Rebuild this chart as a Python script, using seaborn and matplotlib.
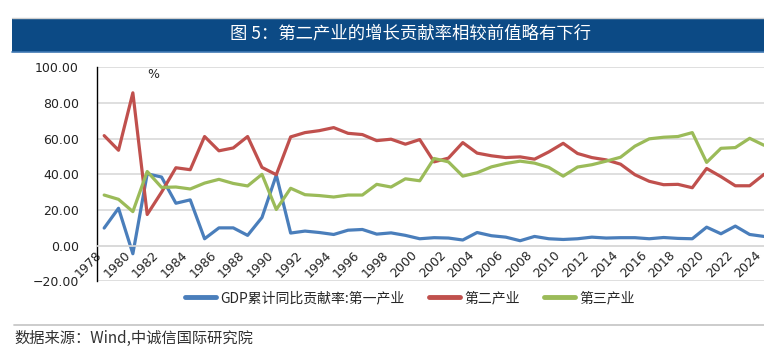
import numpy as np
import pandas as pd
import seaborn as sns
import matplotlib.pyplot as plt
from matplotlib.patches import Rectangle
from matplotlib.lines import Line2D
from matplotlib.ticker import FixedLocator, FuncFormatter

sns.set_style("white")
plt.rcParams['font.family'] = ['Noto Sans CJK SC', 'DejaVu Sans']

years = list(range(1978, 2025))

# GDP累计同比贡献率 (%)
primary = [9.9, 21.0, -4.5, 40.3, 38.5, 23.8, 25.7, 3.9, 10.0, 10.0,
           5.8, 15.8, 39.6, 7.1, 8.2, 7.4, 6.3, 8.7, 9.1, 6.5,
           7.2, 5.8, 3.9, 4.5, 4.3, 3.2, 7.4, 5.6, 4.8, 2.8,
           5.2, 3.9, 3.5, 3.9, 4.8, 4.3, 4.5, 4.5, 3.9, 4.6,
           4.1, 3.9, 10.4, 6.7, 11.0, 6.3, 5.2]
secondary = [61.7, 53.5, 85.7, 17.5, 30.0, 43.7, 42.6, 61.2, 53.2, 54.8,
             61.2, 43.9, 39.8, 61.0, 63.4, 64.5, 66.2, 63.0, 62.3, 58.9,
             59.7, 56.9, 59.5, 47.0, 49.1, 57.8, 51.9, 50.4, 49.4, 49.8,
             48.5, 52.6, 57.4, 51.7, 49.4, 48.1, 45.7, 39.8, 36.1, 34.2,
             34.4, 32.5, 43.3, 38.7, 33.6, 33.6, 40.0]
tertiary = [28.4, 26.0, 19.1, 41.6, 32.7, 32.9, 31.8, 35.1, 37.2, 34.9,
            33.5, 40.0, 20.3, 32.2, 28.6, 28.1, 27.3, 28.4, 28.4, 34.4,
            32.9, 37.5, 36.4, 48.9, 47.0, 39.0, 40.9, 44.2, 46.1, 47.4,
            46.3, 43.9, 39.0, 44.1, 45.4, 47.4, 49.6, 55.8, 59.9, 60.8,
            61.2, 63.4, 46.7, 54.6, 55.0, 60.2, 56.3]

series_names = ["GDP累计同比贡献率:第一产业", "第二产业", "第三产业"]
colors = ["#4a7ebb", "#c0504d", "#9bbb59"]
y_ticks = [-20, 0, 20, 40, 60, 80, 100]
x_label_years = list(range(1978, 2025, 2))

df = pd.DataFrame({
    "year": years * 3,
    "value": primary + secondary + tertiary,
    "series": [series_names[0]] * len(years) + [series_names[1]] * len(years)
              + [series_names[2]] * len(years),
})

fig = plt.figure(figsize=(7.64, 3.56), dpi=100)
ax = fig.add_axes([97 / 764, 1 - 281.4 / 356, 1 - 97 / 764, (281.4 - 67.3) / 356])

sns.lineplot(data=df, x="year", y="value", hue="series", palette=colors,
             linewidth=2.3, ax=ax, legend=False)

ax.set_xlim(1977.5, 2023.5)
ax.set_ylim(-20, 100)
ax.set_xlabel("")
ax.set_ylabel("")

# y axis
ax.set_yticks(y_ticks)
ax.yaxis.set_major_formatter(FuncFormatter(lambda v, p: f"{v:.2f}".replace("-", "\u2212")))
ax.tick_params(axis="y", length=0, pad=13, labelsize=9, labelcolor="#222222")
for lab in ax.get_yticklabels():
    lab.set_family("DejaVu Sans")
ax.yaxis.grid(True, color="#d9d9d9", linewidth=1.2)
ax.set_axisbelow(True)

# x axis sitting on 0
ax.spines["bottom"].set_position(("data", 0))
ax.spines["bottom"].set_color("#d9d9d9")
ax.spines["bottom"].set_linewidth(1.2)
ax.spines["top"].set_visible(False)
ax.spines["right"].set_visible(False)
ax.spines["left"].set_color("#000000")
ax.spines["left"].set_linewidth(1.0)

ax.set_xticks(x_label_years)
ax.set_xticklabels([str(y) for y in x_label_years], rotation=45, ha="right",
                   family="DejaVu Sans")
ax.xaxis.set_minor_locator(FixedLocator([y - 0.5 for y in x_label_years]))
ax.tick_params(axis="x", which="major", length=0, pad=2, labelsize=9, labelcolor="#222222")
ax.tick_params(axis="x", which="minor", length=4, width=1, color="#d9d9d9", direction="out")

ax.text(1981.4, 96.2, "%", ha="center", va="center", fontsize=9, family="DejaVu Sans")

# legend
handles = [Line2D([], [], color=c, lw=3.5) for c in colors]
fig.legend(handles, series_names, loc="center", bbox_to_anchor=(410 / 764, 1 - 298 / 356),
           ncol=3, frameon=False, fontsize=10, handlelength=2.2, handletextpad=0.3,
           columnspacing=1.8)

# title bar
fig.patches.append(Rectangle((12 / 764, 1 - 52 / 356), 1, 34 / 356, transform=fig.transFigure,
                             facecolor="#0c4a85", edgecolor="none", zorder=0))
fig.add_artist(Line2D([12 / 764, 1], [1 - 52 / 356] * 2, transform=fig.transFigure,
                      color="#3f78b3", lw=1.2))
fig.add_artist(Line2D([12 / 764, 1], [1 - 17.5 / 356] * 2, transform=fig.transFigure,
                      color="#cfcfcf", lw=1))
fig.text(410 / 764, 1 - 34 / 356, "图 5：第二产业的增长贡献率相较前值略有下行",
         color="white", fontsize=12.5, ha="center", va="center")

# source
fig.add_artist(Line2D([14 / 764, 1], [1 - 325 / 356] * 2, transform=fig.transFigure,
                      color="#c8c8c8", lw=1.3))
fig.text(14 / 764, 1 - 338 / 356, "数据来源：Wind,中诚信国际研究院", fontsize=11,
         ha="left", va="center", color="#333333")

fig.savefig("out.png", dpi=100)
